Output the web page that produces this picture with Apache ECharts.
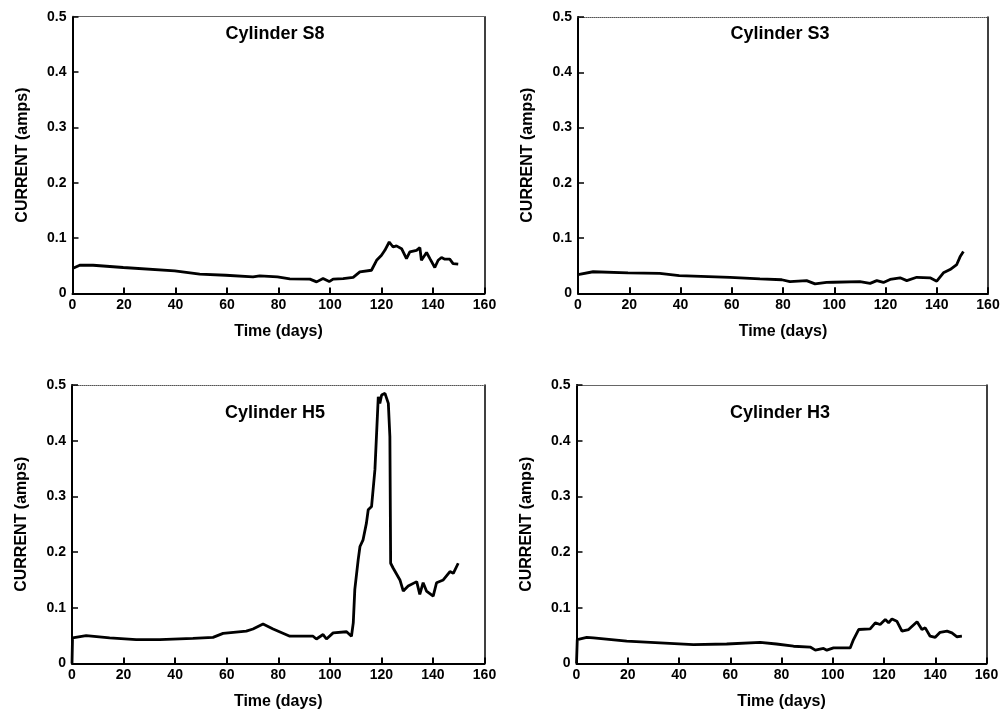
<!DOCTYPE html>
<html><head><meta charset="utf-8">
<script src="https://cdn.jsdelivr.net/npm/echarts@6/dist/echarts.min.js"></script>
<style>html,body{margin:0;padding:0;background:#fff}#c{width:1003px;height:712px}</style>
</head><body><div id="c"></div>
<script>
const titles = ['Cylinder S8', 'Cylinder S3', 'Cylinder H5', 'Cylinder H3'];
const xName = 'Time (days)';
const yName = 'CURRENT (amps)';

const s8Days = [0, 2.8, 8, 19.7, 39.7, 49.4, 59.5, 70.1, 72.7, 79.6, 84.4, 92.2, 94.8, 97.3, 99.7, 101.2, 105.1, 109, 111.6, 116.1, 118.1, 120, 121.3, 123, 124.5, 125.8, 127.8, 129.7, 131, 133.6, 134.9, 135.5, 137.5, 138.8, 140.7, 142, 143.3, 144.6, 146.5, 147.8, 149.8];
const s8Vals = [0.045, 0.051, 0.051, 0.047, 0.041, 0.035, 0.033, 0.030, 0.032, 0.030, 0.0265, 0.026, 0.021, 0.027, 0.0215, 0.026, 0.027, 0.029, 0.039, 0.042, 0.060, 0.069, 0.078, 0.093, 0.084, 0.086, 0.081, 0.063, 0.075, 0.078, 0.083, 0.060, 0.074, 0.063, 0.047, 0.060, 0.065, 0.062, 0.062, 0.054, 0.053];

const s3Days = [0, 5.9, 19.5, 31.9, 39.5, 59.3, 71, 79.5, 82.7, 89.2, 92.5, 97, 99.6, 110, 114, 116.6, 119.2, 121.8, 125.7, 128.3, 132.2, 137.4, 140, 142.6, 145.2, 147.8, 149.1, 150.4];
const s3Vals = [0.034, 0.039, 0.037, 0.036, 0.032, 0.029, 0.026, 0.0245, 0.021, 0.023, 0.017, 0.0196, 0.020, 0.021, 0.018, 0.023, 0.0196, 0.025, 0.028, 0.023, 0.029, 0.028, 0.022, 0.037, 0.043, 0.052, 0.066, 0.0755];

const h5Days = [0, 0.2, 5.5, 14.6, 24.9, 34, 46.9, 54.7, 58.6, 67.6, 70.2, 74.1, 78, 84.5, 93.5, 94.8, 97.4, 98.7, 101.3, 106.5, 108.4, 109.1, 109.7, 111, 111.7, 112.9, 114.2, 114.9, 116.2, 117.5, 118.8, 119.4, 120.1, 121.4, 122.7, 123.3, 123.6, 124.6, 127.2, 128.5, 130.4, 133.7, 134.9, 136.2, 137.5, 140.1, 141.4, 144, 146.6, 147.9, 149.8];
const h5Vals = [0, 0.046, 0.050, 0.046, 0.043, 0.043, 0.045, 0.047, 0.054, 0.058, 0.062, 0.071, 0.062, 0.049, 0.049, 0.044, 0.052, 0.044, 0.055, 0.057, 0.049, 0.073, 0.133, 0.186, 0.21, 0.222, 0.252, 0.276, 0.282, 0.348, 0.479, 0.467, 0.482, 0.485, 0.467, 0.407, 0.180, 0.171, 0.150, 0.130, 0.139, 0.147, 0.124, 0.145, 0.130, 0.121, 0.145, 0.150, 0.165, 0.162, 0.180];

const h3Days = [0, 0.3, 4, 6.6, 19.6, 32.6, 45.6, 58.6, 71.7, 78, 84.7, 91.2, 93.2, 96.4, 97.7, 100.3, 106.8, 108.1, 110.1, 114.6, 116.6, 118.5, 120.5, 121.8, 123.1, 125, 127, 129.6, 132.9, 134.8, 136.1, 138, 140, 141.9, 144.6, 146.5, 148.5, 150.4];
const h3Vals = [0, 0.043, 0.047, 0.046, 0.040, 0.037, 0.034, 0.035, 0.038, 0.035, 0.031, 0.0295, 0.024, 0.027, 0.024, 0.028, 0.028, 0.043, 0.061, 0.062, 0.073, 0.070, 0.079, 0.073, 0.080, 0.076, 0.058, 0.061, 0.075, 0.061, 0.064, 0.049, 0.047, 0.056, 0.058, 0.055, 0.048, 0.049];

const allDays = [s8Days, s3Days, h5Days, h3Days];
const allVals = [s8Vals, s3Vals, h5Vals, h3Vals];

const grids = [
  {left: 72.5, top: 16.7, width: 412, height: 276.8},
  {left: 578, top: 17, width: 410, height: 276.3},
  {left: 72, top: 385, width: 412.5, height: 278.5},
  {left: 576.5, top: 385, width: 410, height: 278.5}
];
const titlePos = [[275, 34], [780, 34], [275, 413], [780, 413]];

const FONT = '"Liberation Sans", Arial, Helvetica, sans-serif';
const xAxes = [], yAxes = [], series = [], graphics = [];
grids.forEach((g, i) => {
  xAxes.push({
    gridIndex: i, type: 'value', min: 0, max: 160, interval: 20,
    axisLine: {onZero: false, lineStyle: {color: '#000', width: 2}},
    axisTick: {inside: true, length: 6, lineStyle: {color: '#000', width: 2}},
    axisLabel: {color: '#000', fontSize: 14, fontWeight: 'bold', fontFamily: FONT, margin: 5},
    splitLine: {show: false},
    name: xName, nameLocation: 'middle', nameGap: 30,
    nameTextStyle: {color: '#000', fontSize: 16, fontWeight: 'bold', fontFamily: FONT}
  });
  xAxes.push({
    gridIndex: i, type: 'value', min: 0, max: 160, position: 'top',
    axisLine: {onZero: false, lineStyle: {color: '#555', width: 1, type: 'dotted'}},
    axisTick: {show: false}, axisLabel: {show: false}, splitLine: {show: false}
  });
  yAxes.push({
    gridIndex: i, type: 'value', min: 0, max: 0.5, interval: 0.1,
    axisLine: {show: true, onZero: false, lineStyle: {color: '#000', width: 2}},
    axisTick: {show: true, inside: true, length: 6, lineStyle: {color: '#000', width: 1.5}},
    axisLabel: {color: '#000', fontSize: 14, fontWeight: 'bold', fontFamily: FONT, margin: 6,
      formatter: v => v === 0 ? '0' : v.toFixed(1)},
    splitLine: {show: false},
    name: yName, nameLocation: 'middle', nameGap: 42, nameRotate: 90,
    nameTextStyle: {color: '#000', fontSize: 16, fontWeight: 'bold', fontFamily: FONT}
  });
  yAxes.push({
    gridIndex: i, type: 'value', min: 0, max: 0.5, position: 'right',
    axisLine: {show: true, onZero: false, lineStyle: {color: '#000', width: 1.5}},
    axisTick: {show: false}, axisLabel: {show: false}, splitLine: {show: false}
  });
  series.push({
    type: 'line', xAxisIndex: 2 * i, yAxisIndex: 2 * i,
    data: allDays[i].map((d, k) => [d, allVals[i][k]]),
    showSymbol: false, symbol: 'none', smooth: false,
    lineStyle: {color: '#000', width: 2.8}, silent: true
  });
  graphics.push({
    type: 'text', x: titlePos[i][0], y: titlePos[i][1],
    style: {text: titles[i], fill: '#000', font: 'bold 18px ' + FONT,
      align: 'center', verticalAlign: 'middle', textAlign: 'center', textVerticalAlign: 'middle'}
  });
});

const chart = echarts.init(document.getElementById('c'), null, {renderer: 'canvas'});
chart.setOption({
  animation: false,
  backgroundColor: '#fff',
  grid: grids,
  xAxis: xAxes,
  yAxis: yAxes,
  series: series,
  graphic: graphics
});
</script>
</body></html>
